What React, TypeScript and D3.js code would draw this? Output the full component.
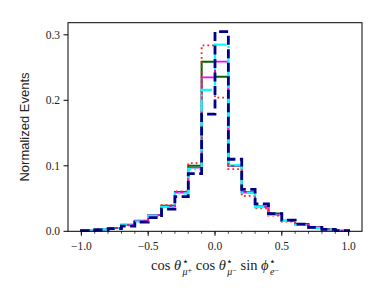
import React, { useEffect, useRef } from "react";
import * as d3 from "d3";

// bin edges -1.0 .. 1.0, step 0.1
const binEdges = d3.range(21).map((i) => -1 + i * 0.1);

const greenVals = [0.001, 0.003, 0.005, 0.010, 0.016, 0.025, 0.039, 0.060, 0.100, 0.259, 0.236, 0.100, 0.060, 0.038, 0.027, 0.016, 0.011, 0.006, 0.003, 0.001];
const magentaVals = [0.001, 0.003, 0.005, 0.010, 0.016, 0.025, 0.038, 0.059, 0.097, 0.235, 0.259, 0.100, 0.059, 0.037, 0.025, 0.016, 0.010, 0.006, 0.003, 0.001];
const redVals = [0.001, 0.003, 0.005, 0.009, 0.015, 0.024, 0.040, 0.061, 0.104, 0.284, 0.204, 0.095, 0.054, 0.035, 0.024, 0.015, 0.010, 0.005, 0.003, 0.001];
const cyanVals = [0.001, 0.003, 0.005, 0.010, 0.015, 0.024, 0.037, 0.058, 0.095, 0.216, 0.285, 0.101, 0.059, 0.037, 0.025, 0.016, 0.010, 0.005, 0.003, 0.001];
const navyVals = [0.001, 0.002, 0.004, 0.008, 0.014, 0.021, 0.034, 0.053, 0.088, 0.179, 0.305, 0.110, 0.064, 0.042, 0.027, 0.017, 0.011, 0.006, 0.003, 0.001];

const xTicks = [-1.0, -0.5, 0.0, 0.5, 1.0];
const xMinorTicks = d3.range(21).map((i) => -1 + i * 0.1);
const yTicks = [0.0, 0.1, 0.2, 0.3];

const series = [
  { vals: greenVals, color: "#006400", width: 2, dash: null },
  { vals: magentaVals, color: "#ff00ff", width: 1.6, dash: null },
  { vals: redVals, color: "#ff2020", width: 1.8, dash: "1.8,3" },
  { vals: cyanVals, color: "#00ffff", width: 2.2, dash: "12,3,2,3" },
  { vals: navyVals, color: "#00008b", width: 2.8, dash: "9,4.5" },
];

const W = 383;
const H = 299;
const margin = { top: 22.7, right: 21, bottom: 67.7, left: 68 };

const serif = "'Liberation Serif', 'Times New Roman', serif";
const fmt = (v: number) => (v < 0 ? "\u2212" : "") + Math.abs(v).toFixed(1);

export default function App() {
  const ref = useRef<SVGSVGElement>(null);

  useEffect(() => {
    const svg = d3.select(ref.current);
    svg.selectAll("*").remove();

    const x = d3.scaleLinear().domain([-1.1, 1.1]).range([margin.left, W - margin.right]);
    const y = d3.scaleLinear().domain([0, 0.3185]).range([H - margin.bottom, margin.top]);

    const line = d3.line<[number, number]>()
      .x((d) => x(d[0]))
      .y((d) => y(d[1]));

    const g = svg.append("g");

    series.forEach((s) => {
      const pts: [number, number][] = [[binEdges[0], 0]];
      s.vals.forEach((v, i) => {
        pts.push([binEdges[i], v]);
        pts.push([binEdges[i + 1], v]);
      });
      pts.push([binEdges[binEdges.length - 1], 0]);
      const p = g.append("path")
        .attr("d", line(pts))
        .attr("fill", "none")
        .attr("stroke", s.color)
        .attr("stroke-width", s.width)
        .attr("stroke-linejoin", "miter");
      if (s.dash) p.attr("stroke-dasharray", s.dash);
    });

    // frame
    svg.append("rect")
      .attr("x", margin.left)
      .attr("y", margin.top)
      .attr("width", W - margin.left - margin.right)
      .attr("height", H - margin.top - margin.bottom)
      .attr("fill", "none")
      .attr("stroke", "#000")
      .attr("stroke-width", 1);

    const y0 = H - margin.bottom;

    // x minor ticks
    svg.selectAll(".xminor")
      .data(xMinorTicks)
      .enter().append("line")
        .attr("x1", (d) => x(d)).attr("x2", (d) => x(d))
        .attr("y1", y0).attr("y2", y0 + 2.5)
        .attr("stroke", "#000").attr("stroke-width", 0.7);

    svg.selectAll(".xmajor")
      .data(xTicks)
      .enter().append("line")
        .attr("x1", (d) => x(d)).attr("x2", (d) => x(d))
        .attr("y1", y0).attr("y2", y0 + 4.5)
        .attr("stroke", "#000").attr("stroke-width", 1);

    svg.selectAll(".xlab")
      .data(xTicks)
      .enter().append("text")
        .attr("x", (d) => x(d))
        .attr("y", y0 + 19)
        .attr("text-anchor", "middle")
        .attr("font-family", serif)
        .attr("font-size", 11.5)
        .attr("fill", "#222")
        .text((d) => fmt(d));

    svg.selectAll(".ytick")
      .data(yTicks)
      .enter().append("line")
        .attr("x1", margin.left - 4.5).attr("x2", margin.left)
        .attr("y1", (d) => y(d)).attr("y2", (d) => y(d))
        .attr("stroke", "#000").attr("stroke-width", 1);

    svg.selectAll(".ylab")
      .data(yTicks)
      .enter().append("text")
        .attr("x", margin.left - 8)
        .attr("y", (d) => y(d) + 4)
        .attr("text-anchor", "end")
        .attr("font-family", serif)
        .attr("font-size", 11.5)
        .attr("fill", "#222")
        .text((d) => d.toFixed(1));

    svg.append("text")
      .attr("transform", `translate(29,${(margin.top + y0) / 2}) rotate(-90)`)
      .attr("text-anchor", "middle")
      .attr("font-family", "'Liberation Sans', Arial, sans-serif")
      .attr("font-size", 13)
      .attr("fill", "#222")
      .text("Normalized Events");

    // x label: cos θ*_{μ+} cos θ*_{μ-} sin φ*_{e-}
    const xl = svg.append("text")
      .attr("x", (margin.left + W - margin.right) / 2)
      .attr("y", y0 + 39)
      .attr("text-anchor", "middle")
      .attr("font-family", serif)
      .attr("font-size", 14.5)
      .attr("fill", "#222");
    const part = (txt: string, opts: { italic?: boolean; dy?: number; size?: number; dx?: number } = {}) => {
      const t = xl.append("tspan").text(txt);
      if (opts.italic) t.attr("font-style", "italic");
      if (opts.dy) t.attr("dy", opts.dy);
      if (opts.size) t.attr("font-size", opts.size);
      if (opts.dx) t.attr("dx", opts.dx);
    };
    const sub = (sym: string, sign: string) => {
      part("\u22c6", { dy: -5, size: 11, dx: 0.5 });
      part(sym, { italic: true, dy: 10, size: 10, dx: -6 });
      part(sign, { dy: -2.5, size: 8 });
    };
    part("cos ");
    part("\u03b8", { italic: true });
    sub("\u03bc", "+");
    part(" cos ", { dy: -2.5 });
    part("\u03b8", { italic: true });
    sub("\u03bc", "\u2212");
    part(" sin ", { dy: -2.5 });
    part("\u03d5", { italic: true });
    sub("e", "\u2212");
  }, []);

  return (
    <svg
      ref={ref}
      width={W}
      height={H}
      style={{ position: "absolute", left: 0, top: 0, background: "#fff" }}
    />
  );
}
